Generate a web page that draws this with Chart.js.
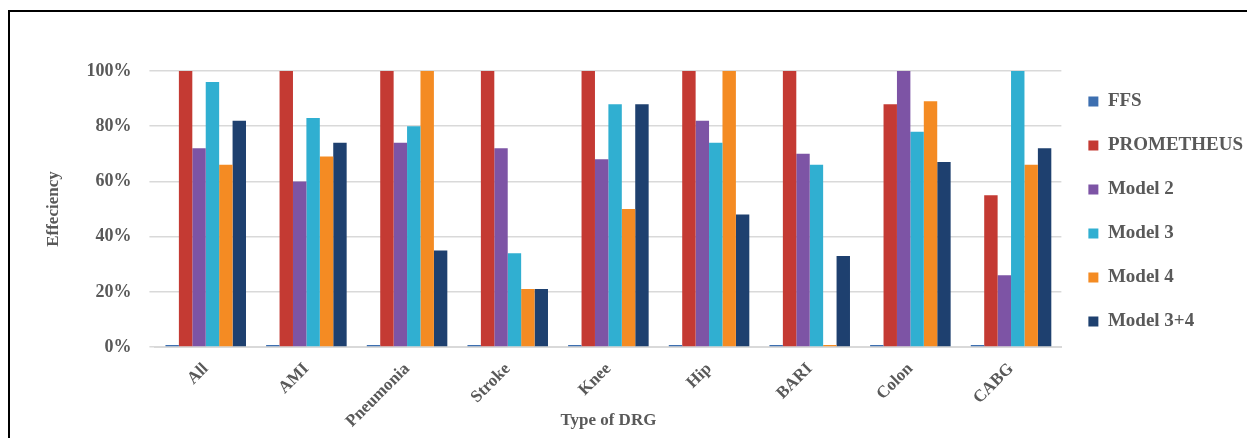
<!DOCTYPE html>
<html>
<head>
<meta charset="utf-8">
<script src="https://cdn.jsdelivr.net/npm/chart.js@4.4.1/dist/chart.umd.min.js"></script>
<style>
    html, body { margin: 0; padding: 0; background: #fff; }
    #wrap { position: relative; width: 1247px; height: 438px; overflow: hidden; }
    #frame { position: absolute; left: 8px; top: 10px; width: 1260px; height: 460px; border: 2px solid #000; box-sizing: border-box; }
    #chart { position: absolute; left: 0; top: 0; }
</style>
</head>
<body>
<div id="wrap">
    <div id="frame"></div>
    <canvas id="chart" width="1247" height="438"></canvas>
</div>
<script>
// DRG categories
const categories = ["All", "AMI", "Pneumonia", "Stroke", "Knee", "Hip", "BARI", "Colon", "CABG"];

// Efficiency per model (%)
const ffs        = [0, 0, 0, 0, 0, 0, 0, 0, 0];
const prometheus = [100, 100, 100, 100, 100, 100, 100, 88, 55];
const model2     = [72, 60, 74, 72, 68, 82, 70, 100, 26];
const model3     = [96, 83, 80, 34, 88, 74, 66, 78, 100];
const model4     = [66, 69, 100, 21, 50, 100, 0.5, 89, 66];
const model34    = [82, 74, 35, 21, 88, 48, 33, 67, 72];

const yTicks = [0, 20, 40, 60, 80, 100];

const grey = "#595959";
const serif = "'Liberation Serif', 'Times New Roman', serif";

function ds(label, data, color) {
    return {
        label: label,
        data: data,
        backgroundColor: color,
        borderColor: color,
        borderWidth: 0,
        minBarLength: 2
    };
}

// nudge the legend so it sits like the original
const legendShift = {
    id: "legendShift",
    afterLayout(chart) {
        const lg = chart.legend;
        lg.top -= 4;
        lg.bottom -= 4;
        lg.left += 2;
        lg.right += 2;
    }
};

new Chart(document.getElementById("chart"), {
    type: "bar",
    data: {
        labels: categories,
        datasets: [
            ds("FFS", ffs, "#3d6fb0"),
            ds("PROMETHEUS", prometheus, "#c43a33"),
            ds("Model 2", model2, "#7d54a5"),
            ds("Model 3", model3, "#30afd1"),
            ds("Model 4", model4, "#f48b23"),
            ds("Model 3+4", model34, "#1e406f")
        ]
    },
    plugins: [legendShift],
    options: {
        responsive: false,
        animation: false,
        layout: { padding: { top: 71, left: 43, right: -4, bottom: 0 } },
        datasets: {
            bar: { categoryPercentage: 0.8, barPercentage: 1.0 }
        },
        plugins: {
            tooltip: { enabled: false },
            legend: {
                position: "right",
                align: "start",
                labels: {
                    boxWidth: 10,
                    boxHeight: 10,
                    padding: 25,
                    color: grey,
                    font: { family: serif, size: 19, weight: "bold" }
                }
            }
        },
        scales: {
            x: {
                grid: { display: false },
                border: { display: true, color: "#d9d9d9", width: 2 },
                ticks: {
                    color: grey,
                    minRotation: 45,
                    maxRotation: 45,
                    padding: 4,
                    font: { family: serif, size: 17, weight: "bold" }
                },
                title: {
                    display: true,
                    text: "Type of DRG",
                    color: grey,
                    padding: { top: -25, bottom: 7 },
                    font: { family: serif, size: 17, weight: "bold" }
                }
            },
            y: {
                min: 0,
                max: 100,
                afterBuildTicks: (axis) => { axis.ticks = yTicks.map(v => ({ value: v })); },
                grid: { color: "#d9d9d9", lineWidth: 1.5, drawTicks: true, tickLength: 6 },
                border: { display: false },
                ticks: {
                    color: grey,
                    padding: 18,
                    callback: (v) => v + "%",
                    font: { family: serif, size: 18, weight: "bold" }
                },
                title: {
                    display: true,
                    text: "Effeciency",
                    color: grey,
                    padding: { top: 0, bottom: 5 },
                    font: { family: serif, size: 17, weight: "bold" }
                }
            }
        }
    }
});
</script>
</body>
</html>
